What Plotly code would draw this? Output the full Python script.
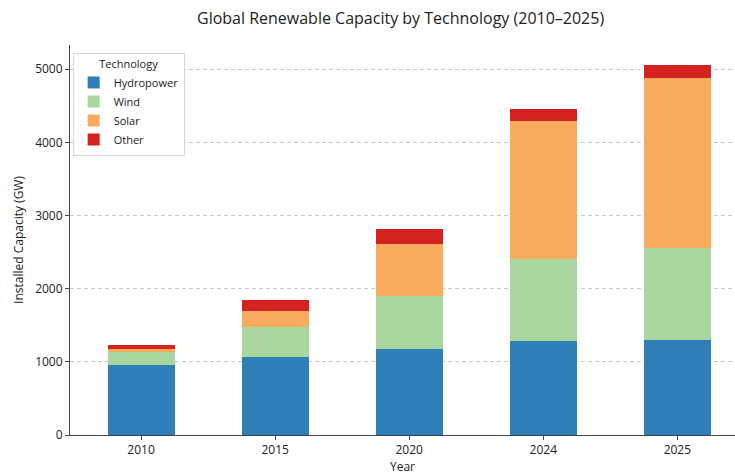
import plotly.graph_objects as go

years = ["2010", "2015", "2020", "2024", "2025"]
hydropower = [950, 1060, 1170, 1280, 1300]
wind = [180, 420, 730, 1130, 1260]
solar = [40, 210, 710, 1875, 2320]
other = [57, 160, 200, 165, 170]

series = [
    ("Hydropower", hydropower, "#2e7fb8"),
    ("Wind", wind, "#a8d8a0"),
    ("Solar", solar, "#fbab5e"),
    ("Other", other, "#d42220"),
]

fig = go.Figure()
for name, vals, color in series:
    fig.add_trace(go.Bar(
        x=years, y=vals, name=name, marker_color=color,
        marker_line_width=0, width=0.5,
    ))

font_family = "Open Sans, Roboto, sans-serif"
fig.update_layout(
    barmode="stack",
    width=735, height=475,
    margin=dict(l=70, r=0, t=45, b=40),
    paper_bgcolor="white", plot_bgcolor="white",
    font=dict(family=font_family, size=12, color="#333333"),
    title=dict(text="Global Renewable Capacity by Technology (2010–2025)",
               x=0.545, xanchor="center", y=0.962, yanchor="middle",
               font=dict(size=16, color="#222222")),
    legend=dict(
        title=dict(text="Technology", side="top center", font=dict(size=11)),
        x=0.004, y=0.98, xanchor="left", yanchor="top",
        bgcolor="white", bordercolor="#d8d8d8", borderwidth=1,
        font=dict(size=11, color="#222222"), tracegroupgap=0, itemwidth=30,
        traceorder="normal",
    ),
)
fig.update_xaxes(
    type="category", range=[-0.53, 4.43],
    showline=True, linecolor="#444444", linewidth=1,
    ticks="outside", ticklen=4, tickcolor="#444444",
    showgrid=False, tickfont=dict(size=12, color="#222222"),
    title=dict(text="Year", font=dict(size=12, color="#222222"), standoff=4),
)
fig.update_yaxes(
    range=[0, 5330], tickvals=[0, 1000, 2000, 3000, 4000, 5000],
    showline=True, linecolor="#444444", linewidth=1,
    ticks="outside", ticklen=4, tickcolor="#444444",
    showgrid=True, gridcolor="#c8c8c8", griddash="4px,3px", gridwidth=1,
    zeroline=False, tickfont=dict(size=12, color="#222222"),
    title=dict(text="Installed Capacity (GW)", font=dict(size=12, color="#222222"), standoff=8),
)

fig.write_html("out.html")
